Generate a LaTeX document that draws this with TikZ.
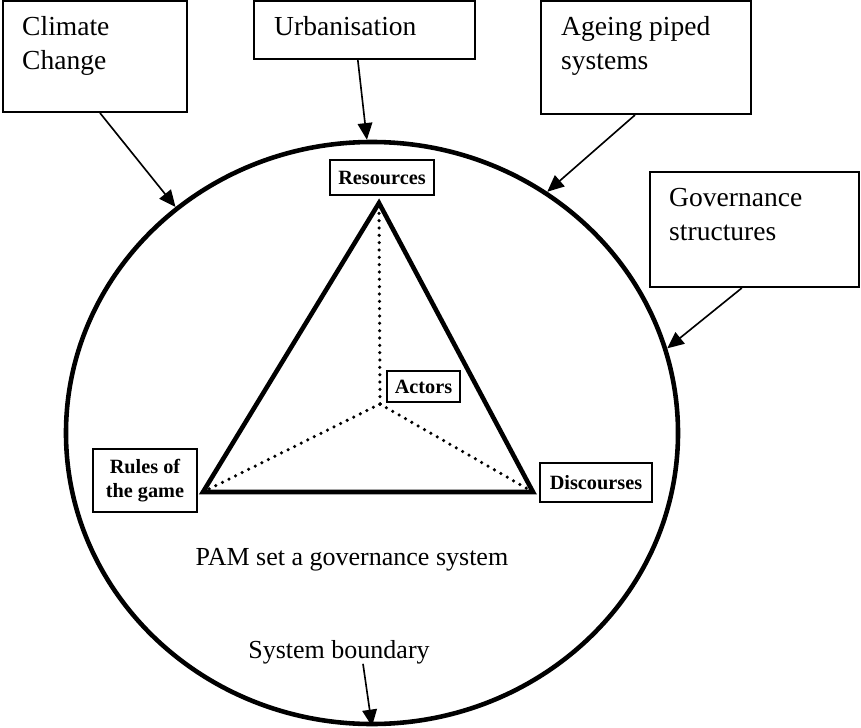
\documentclass[tikz,border=0pt]{standalone}
\usepackage{fontspec}
\setmainfont{Liberation Serif}
\usetikzlibrary{arrows.meta,shapes.geometric}
\tikzset{
	extbox/.style={draw, line width=1.7pt, inner sep=0pt},
	exttext/.style={anchor=north west, inner sep=0pt, align=left, font=\fontsize{23.5}{29}\selectfont},
	pamtext/.style={inner sep=0pt, font=\fontsize{22.2}{27}\selectfont},
	factor/.style={draw, line width=1.8pt, inner sep=0pt, align=center, font=\bfseries\fontsize{17.3}{20.5}\selectfont},
	drive/.style={line width=1.4pt, -{Triangle[length=0.5cm,width=0.44cm]}},
	dots/.style={line width=3pt, line cap=round, dash pattern=on 0pt off 0.22cm}
}

\begin{document}
\begin{tikzpicture}[x=0.03cm, y=-0.03cm]
		%%%%% START %%%%%
		\useasboundingbox (0,0) rectangle (861,728);
		
		% system boundary
		\node[draw, ellipse, line width=3.9pt, inner sep=0pt, minimum width=18.36cm, minimum height=17.46cm] (boundary) at (372,433) {};
		
		% outside pressures
		\node[extbox, minimum width=5.52cm, minimum height=3.33cm] (climate) at (95,56.5) {};
		\node[extbox, minimum width=6.63cm, minimum height=1.74cm] (urban) at (364.5,30) {};
		\node[extbox, minimum width=6.3cm, minimum height=3.39cm] (ageing) at (646,57.5) {};
		\node[extbox, minimum width=6.27cm, minimum height=3.45cm] (governance) at (754.5,229.5) {};
		
		\node[exttext] (climatetxt) at ([shift={(0.6cm,-0.48cm)}]climate.north west) {Climate\\Change};
		\node[exttext] (urbantxt) at ([shift={(0.63cm,-0.48cm)}]urban.north west) {Urbanisation};
		\node[exttext] (ageingtxt) at ([shift={(0.63cm,-0.48cm)}]ageing.north west) {Ageing piped\\systems};
		\node[exttext] (governancetxt) at ([shift={(0.6cm,-0.5cm)}]governance.north west) {Governance\\structures};
		
		\draw[drive] ([xshift=0.15cm]climate.south) -- (boundary.131);
		\draw[drive] ([xshift=-0.2cm]urban.south) -- (boundary.91);
		\draw[drive] ([xshift=-0.33cm]ageing.south) -- (boundary.54);
		\draw[drive] ([xshift=-0.38cm]governance.south) -- (boundary.16);
		
		% PAM triangle
		\coordinate (apex) at (379,203);
		\coordinate (leftc) at (203,492);
		\coordinate (rightc) at (533,492);
		\coordinate (hub) at (380,404);
		
		\draw[line width=3.9pt, line join=miter] (apex) -- (leftc) -- (rightc) -- cycle;
		\draw[dots] (hub) -- (apex);
		\draw[dots] (hub) -- (leftc);
		\draw[dots] (hub) -- (rightc);
		
		\node[factor, minimum width=3.12cm, minimum height=1.05cm] (resources) at (382,177.5) {Resources};
		\node[factor, minimum width=2.19cm, minimum height=0.93cm] (actors) at (423.5,386.5) {Actors};
		\node[factor, minimum width=3.12cm, minimum height=1.89cm] (rules) at (145,480.5) {Rules of\\the game};
		\node[factor, minimum width=3.36cm, minimum height=1.17cm] (discourses) at (596,482.5) {Discourses};
		
		\node[pamtext, anchor=base] (pam) at (352,565) {PAM set a governance system};
		\node[pamtext, anchor=base] (sysb) at (339,658) {System boundary};
		\draw[drive] ([xshift=0.72cm]sysb.south) -- (boundary.270);
		
		%%%%% END %%%%%
\end{tikzpicture}
\end{document}
